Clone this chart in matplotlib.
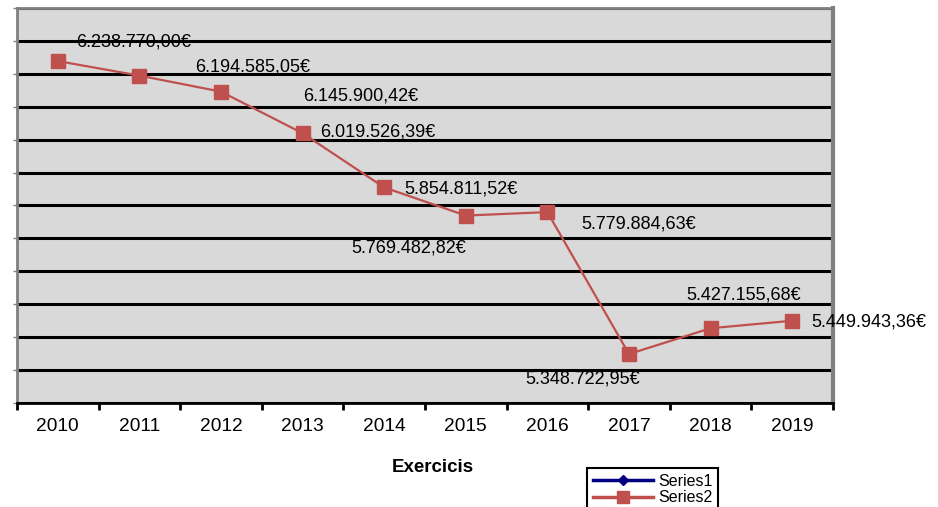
import matplotlib
matplotlib.use("Agg")
import matplotlib.pyplot as plt
from matplotlib.lines import Line2D
import numpy as np

plt.rcParams['font.family'] = ['Liberation Sans', 'DejaVu Sans']

# --- Dades ---
years = ['2010', '2011', '2012', '2013', '2014', '2015', '2016', '2017', '2018', '2019']
series2 = [6238770.00, 6194585.05, 6145900.42, 6019526.39, 5854811.52,
           5769482.82, 5779884.63, 5348722.95, 5427155.68, 5449943.36]
series1 = []  # buida, només surt a la llegenda

# posició de cada etiqueta respecte del punt (píxels)
label_offsets = [(76, 19), (113, 9), (140, -4), (75, 1), (77, -2),
                 (-57, -32), (91, -12), (-46, -25), (33, 33), (77, -1)]


def fmt_eur(v):
    s = f"{v:,.2f}"
    s = s.replace(',', 'X').replace('.', ',').replace('X', '.')
    return s + '€'


fig = plt.figure(figsize=(9.38, 5.07), dpi=100)
ax = fig.add_axes([17 / 938, 104 / 507, 816 / 938, 395 / 507])
ax.set_facecolor('#d9d9d9')

x = np.arange(len(years))
ax.plot(x, series2, color='#c0504d', lw=1.6, marker='s', markersize=9.5,
        markerfacecolor='#c0504d', markeredgecolor='#c0504d', zorder=3)
ax.plot(np.arange(len(series1)), series1, color='#000080', marker='D')

for xi, v, (dx, dy) in zip(x, series2, label_offsets):
    ax.annotate(fmt_eur(v), (xi, v), xytext=(dx, dy), textcoords='offset pixels',
                ha='center', va='center', fontsize=13, color='black', zorder=4)

ax.set_xlim(-0.5, len(years) - 0.5)
ax.set_ylim(5200000, 6400000)
ax.set_yticks(np.arange(5200000, 6400001, 100000))
ax.yaxis.grid(True, color='black', lw=2.2)
ax.set_axisbelow(True)
ax.set_yticklabels([])
ax.tick_params(axis='y', length=3, width=1, color='#808080')

ax.set_xticks(x)
ax.set_xticklabels(years, fontsize=13.8)
ax.set_xticks(np.arange(-0.5, len(years)), minor=True)
ax.tick_params(axis='x', which='major', length=0, pad=11)
ax.tick_params(axis='x', which='minor', length=5, width=2, color='black', direction='out')

for side in ['left', 'top']:
    ax.spines[side].set_color('#808080')
    ax.spines[side].set_linewidth(2)
ax.spines['right'].set_color('#808080')
ax.spines['right'].set_linewidth(3)
ax.spines['bottom'].set_color('black')
ax.spines['bottom'].set_linewidth(2)

fig.text(433 / 938, 1 - 467 / 507, 'Exercicis', ha='center', va='center',
         fontsize=13.5, fontweight='bold')

handles = [Line2D([], [], color='#000080', lw=2.5, marker='D', markersize=5),
           Line2D([], [], color='#c0504d', lw=2.5, marker='s', markersize=8)]
leg = fig.legend(handles, ['Series1', 'Series2'], loc='upper left',
                 bbox_to_anchor=(587 / 938, 1 - 468 / 507), fontsize=11.5,
                 frameon=True, fancybox=False, framealpha=1, edgecolor='black',
                 handlelength=3.8, handletextpad=0.3, borderpad=0.35,
                 labelspacing=0.1, borderaxespad=0)
leg.get_frame().set_linewidth(1.5)

fig.savefig('out.png', dpi=100)
